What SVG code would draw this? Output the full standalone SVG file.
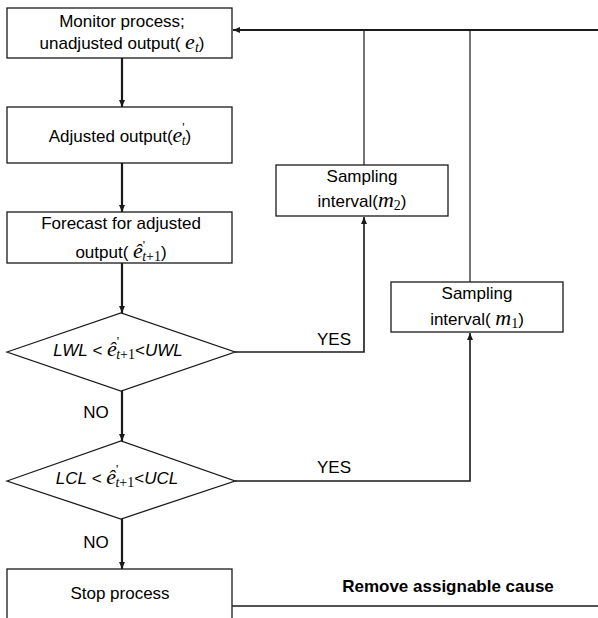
<svg xmlns="http://www.w3.org/2000/svg" width="598" height="618" viewBox="0 0 598 618">
<style>
.box{fill:#fff;stroke:#1a1a1a;stroke-width:1.3}
.t{font-family:"Liberation Sans",Arial,sans-serif;font-size:17px;fill:#000;text-anchor:middle}
.b{font-weight:bold}
.i{font-style:italic}
.m{font-family:"Liberation Serif","Times New Roman",serif;font-style:italic;font-size:22px}
.sub{font-family:"Liberation Serif","Times New Roman",serif;font-style:italic;font-size:14px}
.subn{font-family:"Liberation Serif","Times New Roman",serif;font-size:14px}
.sup{font-family:"Liberation Serif","Times New Roman",serif;font-size:13px}
.c{fill:none;stroke:#1a1a1a}
.thick{stroke-width:2.2}
.mid{stroke-width:1.6}
.thin{stroke-width:1.2}
</style>
<defs>
<marker id="ah" markerUnits="userSpaceOnUse" markerWidth="8" markerHeight="7" refX="7" refY="3" orient="auto">
<path d="M0,0 L7,3 L0,6 z" fill="#1a1a1a"/>
</marker>
</defs>

<g id="connectors">
<line class="c thick" x1="598" y1="30" x2="233" y2="30" marker-end="url(#ah)"/>
<line class="c thick" x1="122" y1="58" x2="122" y2="107" marker-end="url(#ah)"/>
<line class="c thick" x1="122" y1="163" x2="122" y2="212" marker-end="url(#ah)"/>
<line class="c thick" x1="122" y1="263" x2="122" y2="313" marker-end="url(#ah)"/>
<line class="c thick" x1="122" y1="391" x2="122" y2="441" marker-end="url(#ah)"/>
<line class="c thick" x1="122" y1="519" x2="122" y2="569" marker-end="url(#ah)"/>
<polyline class="c mid" points="235,352 364,352 364,217" marker-end="url(#ah)"/>
<polyline class="c mid" points="235,481 470,481 470,333" marker-end="url(#ah)"/>
<line class="c thin" x1="364" y1="165" x2="364" y2="30"/>
<line class="c thin" x1="470" y1="282" x2="470" y2="30"/>
<line class="c mid" x1="232" y1="606" x2="598" y2="606"/>
<text class="t" x="334" y="345">YES</text>
<text class="t" x="334" y="473">YES</text>
<text class="t" x="96" y="418">NO</text>
<text class="t" x="96" y="548">NO</text>
<text class="t b" x="448" y="592">Remove assignable cause</text>
</g>

<g id="monitor">
<rect class="box" x="7" y="8" width="225" height="50"/>
<text class="t" x="122" y="27">Monitor process;</text>
<text class="t" x="122" y="49">unadjusted output( <tspan class="m">e</tspan><tspan class="sub" dy="3">t</tspan><tspan dy="-3">)</tspan></text>
</g>

<g id="adjusted">
<rect class="box" x="7" y="107" width="225" height="56"/>
<text class="t" x="120" y="142">Adjusted output(<tspan class="m">e</tspan><tspan class="sup" dy="-11">'</tspan><tspan class="sub" dx="-3" dy="14">t</tspan><tspan dy="-3">)</tspan></text>
</g>

<g id="forecast">
<rect class="box" x="7" y="212" width="225" height="51"/>
<text class="t" x="121" y="229">Forecast for adjusted</text>
<text class="t" x="121" y="258">output( <tspan class="m">ê</tspan><tspan class="sup" dy="-9">'</tspan><tspan class="sub" dx="-3" dy="12">t</tspan><tspan class="subn">+1</tspan><tspan dy="-3">)</tspan></text>
</g>

<g id="warning">
<polygon class="box" points="7,352 121,313 235,352 121,391"/>
<text class="t" x="118" y="356"><tspan class="i">LWL</tspan> &lt; <tspan class="m">ê</tspan><tspan class="sup" dy="-11">'</tspan><tspan class="sub" dx="-3" dy="14">t</tspan><tspan class="subn">+1</tspan><tspan dy="-3">&lt;</tspan><tspan class="i">UWL</tspan></text>
</g>

<g id="control">
<polygon class="box" points="7,481 121,441 235,481 121,519"/>
<text class="t" x="117" y="484"><tspan class="i">LCL</tspan> &lt;  <tspan class="m">ê</tspan><tspan class="sup" dy="-11">'</tspan><tspan class="sub" dx="-3" dy="14">t</tspan><tspan class="subn">+1</tspan><tspan dy="-3">&lt;</tspan><tspan class="i">UCL</tspan></text>
</g>

<g id="stop">
<rect class="box" x="7" y="569" width="225" height="70"/>
<text class="t" x="120" y="599">Stop process</text>
</g>

<g id="sampling2">
<rect class="box" x="276" y="165" width="172" height="51"/>
<text class="t" x="362" y="182">Sampling</text>
<text class="t" x="362" y="207">interval(<tspan class="m">m</tspan><tspan class="subn" dy="3">2</tspan><tspan dy="-3">)</tspan></text>
</g>

<g id="sampling1">
<rect class="box" x="391" y="282" width="172" height="50"/>
<text class="t" x="477" y="299">Sampling</text>
<text class="t" x="477" y="325">interval( <tspan class="m">m</tspan><tspan class="subn" dy="3">1</tspan><tspan dy="-3">)</tspan></text>
</g>
</svg>
